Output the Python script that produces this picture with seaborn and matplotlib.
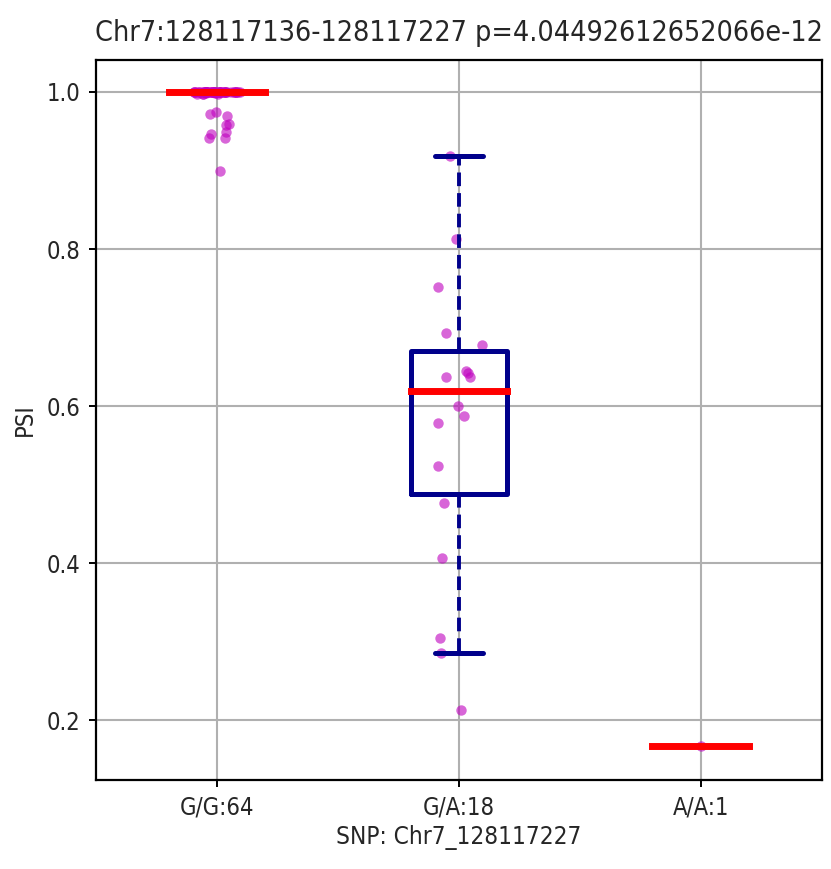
import numpy as np
import pandas as pd
import matplotlib
matplotlib.use("Agg")
import matplotlib.pyplot as plt
import matplotlib.font_manager as fm
import seaborn as sns

# ---- data ----
categories = ["G/G:64", "G/A:18", "A/A:1"]
gg_values = [1.0] * 48 + [0.999, 0.999, 0.998, 0.998, 0.997, 0.997] + [
    0.974, 0.972, 0.969, 0.959, 0.958, 0.949, 0.947, 0.941, 0.941, 0.899]
ga_values = [0.918, 0.813, 0.752, 0.693, 0.678, 0.637, 0.642, 0.644, 0.637,
             0.600, 0.587, 0.578, 0.524, 0.476, 0.406, 0.304, 0.286, 0.213]
aa_values = [0.167]
title = "Chr7:128117136-128117227 p=4.04492612652066e-12"
xlabel = "SNP: Chr7_128117227"
ylabel = "PSI"

df = pd.DataFrame({
    "geno": [categories[0]] * len(gg_values) + [categories[1]] * len(ga_values)
            + [categories[2]] * len(aa_values),
    "psi": gg_values + ga_values + aa_values,
})

sns.set_style("white")
names = {f.name for f in fm.fontManager.ttflist}
if "Liberation Sans Narrow" in names:
    fam = "Liberation Sans Narrow"
else:
    fam = "DejaVu Sans"
plt.rcParams["font.family"] = [fam, "DejaVu Sans"]
plt.rcParams["font.stretch"] = "condensed"

fig = plt.figure(figsize=(8.31, 8.69), dpi=100)
ax = fig.add_axes([0.1155, 0.1024, 0.8735, 0.8286])

np.random.seed(3)
sns.stripplot(data=df, x="geno", y="psi", order=categories, ax=ax,
              jitter=0.1, color="m", alpha=0.6, size=7.5, linewidth=0,
              zorder=2)
sns.boxplot(data=df, x="geno", y="psi", order=categories, ax=ax,
            width=0.4, fill=False, color="darkblue", showfliers=False,
            linewidth=3.6,
            boxprops=dict(color="darkblue", linewidth=3.6, zorder=3),
            whiskerprops=dict(color="darkblue", linestyle=(0, (3.5, 1.8)),
                              linewidth=2.8, zorder=3),
            capprops=dict(color="darkblue", linewidth=3.6, zorder=3),
            medianprops=dict(color="red", linewidth=5, zorder=4,
                             solid_capstyle="projecting"))

ax.set_xlim(-0.5, 2.5)
ax.set_ylim(0.1236, 1.0408)
ax.set_yticks([0.2, 0.4, 0.6, 0.8, 1.0])
ax.set_yticklabels(["0.2", "0.4", "0.6", "0.8", "1.0"])
ax.grid(True, color="#b0b0b0", linewidth=1.5)
ax.set_axisbelow(True)
for s in ax.spines.values():
    s.set_visible(True)
    s.set_color("black")
    s.set_linewidth(1.6)
ax.tick_params(axis="both", which="major", length=5, width=1.4,
               labelsize=17, color="black", bottom=True, left=True, pad=6)
ax.set_title(title, fontsize=20.5, pad=14)
ax.set_xlabel(xlabel, fontsize=17.5, labelpad=4)
ax.set_ylabel(ylabel, fontsize=17, labelpad=7)

fig.savefig("out.png", dpi=100, facecolor="white")
